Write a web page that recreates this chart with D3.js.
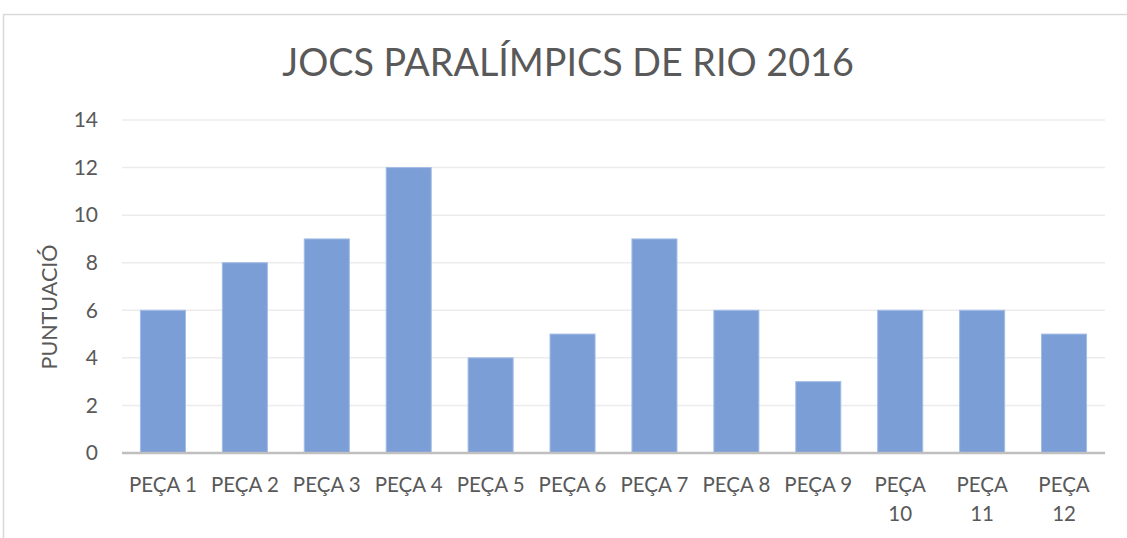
<!DOCTYPE html>
<html>
<head>
<meta charset="utf-8">
<script src="https://cdn.jsdelivr.net/npm/d3@7"></script>
<style>
  html, body { margin: 0; padding: 0; background: #fff; }
  svg { display: block; font-family: Lato, "Noto Sans", sans-serif; }
</style>
</head>
<body>
<svg id="chart" width="1127" height="538"></svg>
<script>
const title = "JOCS PARALÍMPICS DE RIO 2016";
const yTitle = "PUNTUACIÓ";
const categories = ["PEÇA 1","PEÇA 2","PEÇA 3","PEÇA 4","PEÇA 5","PEÇA 6","PEÇA 7","PEÇA 8","PEÇA 9","PEÇA 10","PEÇA 11","PEÇA 12"];
const values = [6, 8, 9, 12, 4, 5, 9, 6, 3, 6, 6, 5];
const yTicks = [0, 2, 4, 6, 8, 10, 12, 14];

const svg = d3.select("#chart");
const W = 1127, H = 538;
const margin = {left: 122, right: 22, top: 120, bottom: 85};
const FONT = "Lato, 'Noto Sans', sans-serif";

// chart frame
svg.append("rect")
  .attr("x", 3.5).attr("y", 14.5)
  .attr("width", W + 10).attr("height", H + 10)
  .attr("fill", "#fff").attr("stroke", "#d9d9d9").attr("stroke-width", 1.5);

const x = d3.scaleBand().domain(categories)
  .range([margin.left, W - margin.right]).paddingInner(0.45).paddingOuter(0.225);
const y = d3.scaleLinear().domain([0, 14]).range([H - margin.bottom, margin.top]);

// gridlines
svg.append("g").selectAll("line").data(yTicks.filter(d => d > 0)).join("line")
  .attr("x1", margin.left).attr("x2", W - margin.right)
  .attr("y1", d => y(d)).attr("y2", d => y(d))
  .attr("stroke", "#ececec").attr("stroke-width", 1.5);

// y axis labels
const yAxis = d3.axisLeft(y).tickValues(yTicks).tickSize(0).tickPadding(24);
const gy = svg.append("g").attr("transform", `translate(${margin.left},0)`).call(yAxis);
gy.select(".domain").remove();
gy.selectAll("text").attr("fill", "#595959").style("font-size", "21px").style("font-family", FONT);

// bars
svg.append("g").selectAll("rect").data(values).join("rect")
  .attr("x", (d, i) => x(categories[i]))
  .attr("y", d => y(d))
  .attr("width", x.bandwidth())
  .attr("height", d => y(0) - y(d))
  .attr("fill", "#7b9ed7")
  .attr("stroke", "#a4bde6").attr("stroke-width", 1);

// x axis
const xAxis = d3.axisBottom(x).tickSize(0).tickPadding(24);
const gx = svg.append("g").attr("transform", `translate(0,${y(0)})`).call(xAxis);
gx.select(".domain").attr("stroke", "#bfbfbf").attr("stroke-width", 2.5)
  .attr("d", `M${margin.left},0H${W - margin.right}`);
gx.selectAll("text").attr("fill", "#595959").style("font-size", "20.5px").style("font-family", FONT)
  .each(function(d) {
    const t = d3.select(this);
    const maxW = x.step() - 4;
    if (this.getComputedTextLength() > maxW) {
      const words = d.split(" ");
      t.text(null);
      words.forEach((w, i) => {
        t.append("tspan").attr("x", 0).attr("dy", i === 0 ? "0.71em" : "1.46em").text(w);
      });
      t.attr("dy", null);
    }
  });

// y title
svg.append("text")
  .attr("transform", `translate(57,307) rotate(-90)`)
  .attr("text-anchor", "middle")
  .attr("fill", "#595959").style("font-size", "21.5px")
  .text(yTitle);

// title
svg.append("text")
  .attr("x", 568).attr("y", 76)
  .attr("text-anchor", "middle")
  .attr("fill", "#595959").style("font-size", "37.7px")
  .text(title);
</script>
</body>
</html>
